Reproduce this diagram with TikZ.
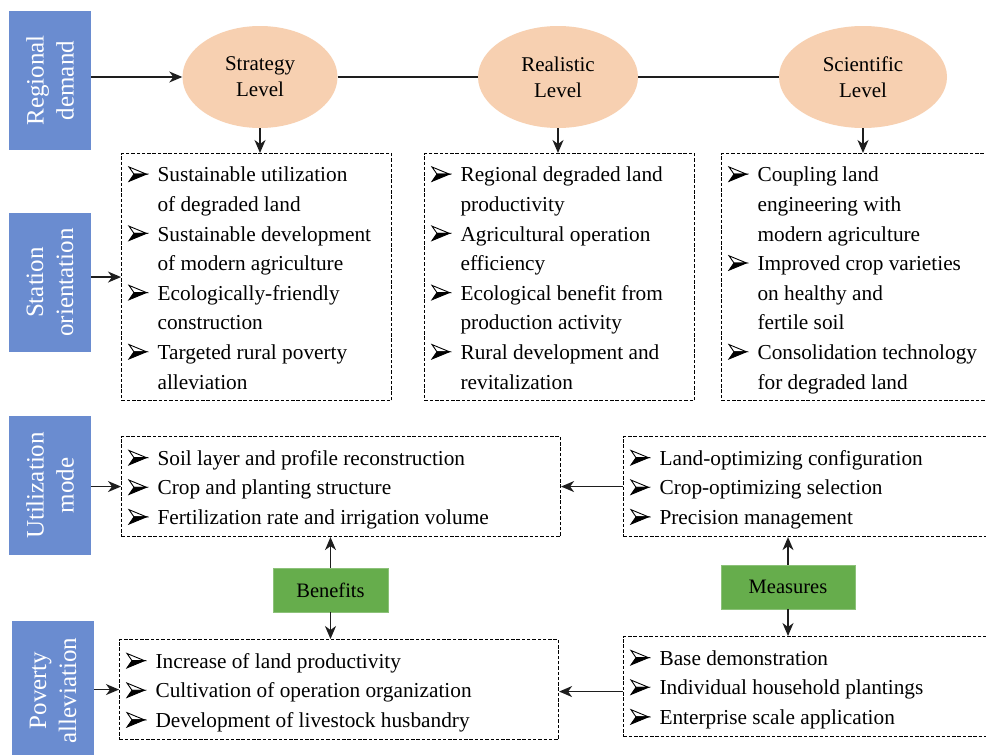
\documentclass[tikz,border=0pt]{standalone}
\usepackage{fontspec}
\setmainfont{Liberation Serif}
\usepackage{array}
\usetikzlibrary{arrows.meta,shapes.geometric,calc}

\definecolor{bandblue}{HTML}{6A8CD0}
\definecolor{levelpeach}{HTML}{F7D0B1}
\definecolor{taggreen}{HTML}{66AD4C}
\definecolor{linegray}{HTML}{1E1E1E}

% three-D arrowhead bullet: light upper face, dark lower face
\newcommand\pointer{\tikz[x=1pt,y=1pt,baseline=-0.5pt]{%
  \filldraw[line width=0.9pt,line join=miter] (0,0) -- (17.5,7.2) -- (5,7.2) -- cycle;
  \draw[line width=0.9pt,line join=miter] (0,14.4) -- (17.5,7.2) -- (5,7.2) -- cycle;}}

% bullet list laid out as two columns: bullet, text of width #1,
% set a little lower than the box centre
\newcommand\listtab[2]{\raisebox{-2.5pt}[\height][\depth]{\begin{tabular}{@{}p{17pt}@{\hspace{12pt}}p{#1}@{}}#2\end{tabular}}}

\tikzset{
  band/.style={fill=bandblue, draw=none, text=white, rotate=90,
    minimum width=139pt, minimum height=82pt, inner sep=0pt,
    font=\fontsize{25}{30}\selectfont, align=center},
  level/.style={ellipse, fill=levelpeach, draw=none, minimum height=102pt,
    inner sep=0pt, font=\fontsize{21}{26}\selectfont, align=center},
  listbox/.style={draw=black, dash pattern=on 3.5pt off 1.8pt, line width=1.1pt,
    anchor=north west, inner xsep=7pt, inner ysep=0pt,
    font=\fontsize{21.3}{29.6}\selectfont},
  tag/.style={fill=taggreen, draw=taggreen!75!white, line width=0.8pt,
    inner sep=0pt, font=\fontsize{20.5}{24}\selectfont},
  link/.style={draw=linegray, line width=1.4pt},
  arr/.style={link, -{Stealth[length=13pt,width=11pt,inset=4pt]}},
}

\begin{document}
\begin{tikzpicture}[x=1pt,y=-1pt]
\useasboundingbox (0,0) rectangle (986,755);
\clip (0,0) rectangle (986,755);
\fill[white] (0,0) rectangle (986,755);

% row labels
\node[band] (reg)  at (50,80.5)  {Regional\\demand};
\node[band] (sta)  at (50,282.5) {Station\\orientation};
\node[band] (util) at (50,485.5) {Utilization\\mode};
\node[band] (pov)  at (53,690.5) {Poverty\\alleviation};

% levels
\node[level, minimum width=155pt] (strat) at (260,77) {Strategy\\Level};
\node[level, minimum width=160pt] (real)  at (558,77) {Realistic\\Level};
\node[level, minimum width=168pt] (sci)   at (863,77) {Scientific\\Level};

% station orientation boxes
\node[listbox, minimum height=247pt] (s1) at (121,153) {\listtab{227pt}{%
  \pointer & Sustainable utilization\\
           & of degraded land\\
  \pointer & Sustainable development\\
           & of modern agriculture\\
  \pointer & Ecologically-friendly\\
           & construction\\
  \pointer & Targeted rural poverty\\
           & alleviation}};
\node[listbox, minimum height=247pt] (s2) at (424,153) {\listtab{227pt}{%
  \pointer & Regional degraded land\\
           & productivity\\
  \pointer & Agricultural operation\\
           & efficiency\\
  \pointer & Ecological benefit from\\
           & production activity\\
  \pointer & Rural development and\\
           & revitalization}};
\node[listbox, minimum height=247pt] (s3) at (721,153) {\listtab{227pt}{%
  \pointer & Coupling land\\
           & engineering with\\
           & modern agriculture\\
  \pointer & Improved crop varieties\\
           & on healthy and\\
           & fertile soil\\
  \pointer & Consolidation technology\\
           & for degraded land}};

% utilization mode boxes
\node[listbox, minimum height=100pt] (u1) at (121,436) {\listtab{396pt}{%
  \pointer & Soil layer and profile reconstruction\\
  \pointer & Crop and planting structure\\
  \pointer & Fertilization rate and irrigation volume}};
\node[listbox, minimum height=100pt] (u2) at (623,436) {\listtab{396pt}{%
  \pointer & Land-optimizing configuration\\
  \pointer & Crop-optimizing selection\\
  \pointer & Precision management}};

% poverty alleviation boxes
\node[listbox, minimum height=100pt] (p1) at (119,639) {\listtab{396pt}{%
  \pointer & Increase of land productivity\\
  \pointer & Cultivation of operation organization\\
  \pointer & Development of livestock husbandry}};
\node[listbox, minimum height=100pt] (p2) at (623,636) {\listtab{396pt}{%
  \pointer & Base demonstration\\
  \pointer & Individual household plantings\\
  \pointer & Enterprise scale application}};

% green tags
\node[tag, minimum width=115pt, minimum height=44pt] (ben) at (330.5,590) {Benefits};
\node[tag, minimum width=134pt, minimum height=44pt] (mea) at (788,587) {Measures};

% connectors along the top
\draw[arr]  (reg.south |- strat.west) -- (strat.west);
\draw[link] (strat.east) -- (real.west);
\draw[link] (real.east) -- (sci.west);
\draw[arr] (strat.south) -- (strat.south |- s1.north);
\draw[arr] (real.south)  -- (real.south |- s2.north);
\draw[arr] (sci.south)   -- (sci.south |- s3.north);

% row label arrows
\draw[arr] (sta.south |- s1.west)  -- (s1.west);
\draw[arr] (util.south |- u1.west) -- (u1.west);
\draw[arr] (pov.south |- p1.west)  -- (p1.west);

% right-to-left arrows
\draw[arr] (u2.west) -- (u2.west -| u1.east);
\draw[arr] ($(p2.west)+(0,5)$) -- ($(p2.west -| p1.east)+(0,5)$);

% tag arrows
\draw[arr] (ben.north) -- (ben.north |- u1.south);
\draw[arr] (ben.south) -- (ben.south |- p1.north);
\draw[arr] (mea.north) -- (mea.north |- u2.south);
\draw[arr] (mea.south) -- (mea.south |- p2.north);
\end{tikzpicture}
\end{document}
